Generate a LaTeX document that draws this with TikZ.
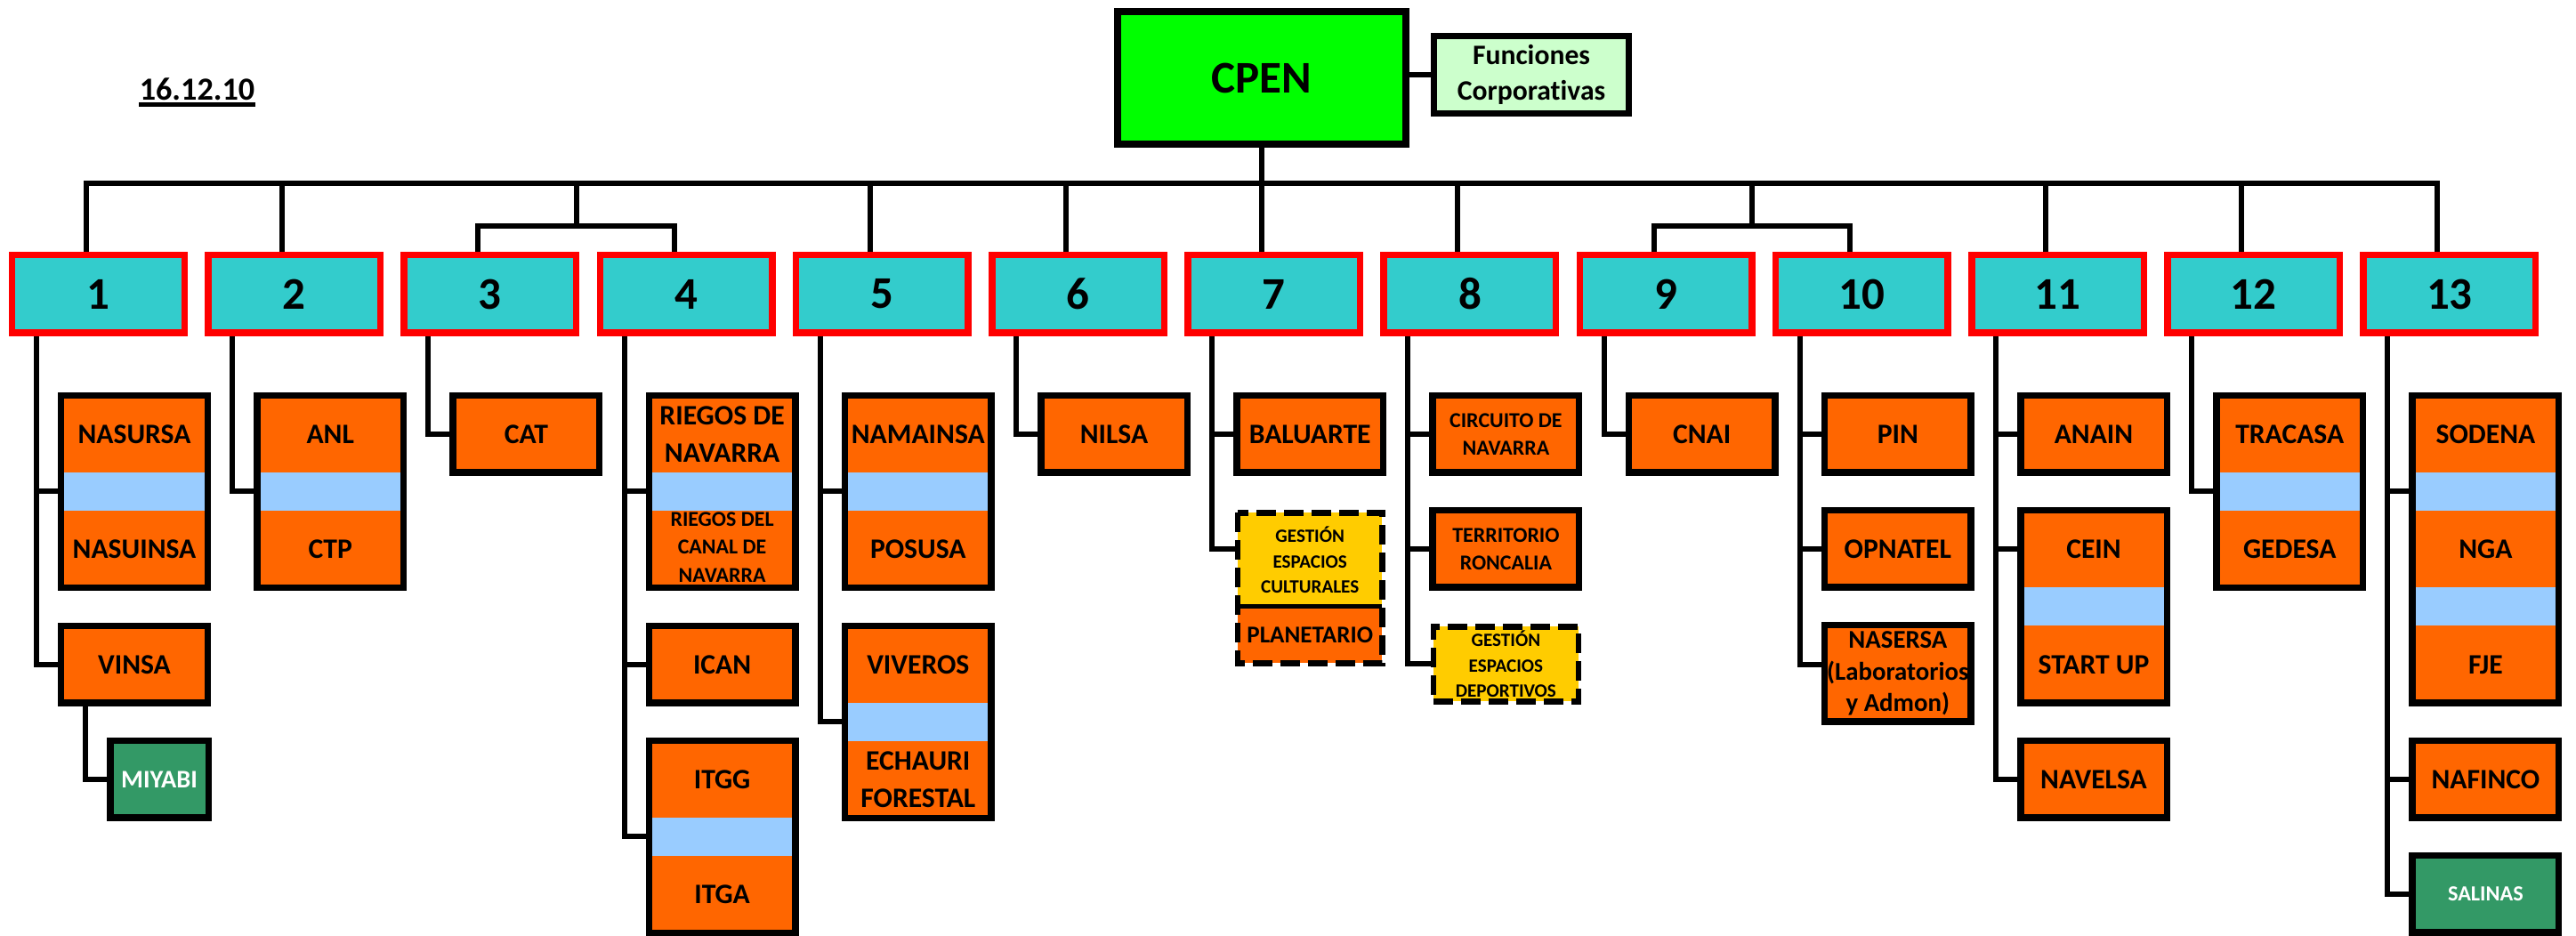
\documentclass[tikz,border=0pt]{standalone}
\usepackage{fontspec}
\setmainfont{Carlito}[Ligatures=NoCommon]
\usepackage{tikz}

\definecolor{unitfill}{HTML}{33CCCC}
\definecolor{firmfill}{HTML}{FF6600}
\definecolor{bandfill}{HTML}{99CCFF}
\definecolor{headfill}{HTML}{00FF00}
\definecolor{corpfill}{HTML}{CCFFCC}
\definecolor{planfill}{HTML}{FFCC00}
\definecolor{newfill}{HTML}{339966}

\begin{document}
\begin{tikzpicture}[
    link/.style={line width=0.06cm},
    unit/.style={draw=red, line width=0.075cm, fill=unitfill, minimum width=1.935cm, minimum height=0.875cm, inner sep=0pt, font=\fontsize{14.5}{17}\selectfont\bfseries},
    firm/.style={draw, line width=0.075cm, fill=firmfill, minimum width=1.645cm, minimum height=0.865cm, inner sep=0pt, align=center, font=\fontsize{9}{11.9}\selectfont\bfseries},
    band/.style={fill=bandfill, minimum width=1.57cm, minimum height=0.43cm, inner sep=0pt},
    lbl/.style={inner sep=0pt, align=center, font=\fontsize{9}{11.9}\selectfont\bfseries},
    smalltxt/.style={font=\fontsize{6.8}{8.9}\selectfont\bfseries},
    tinytxt/.style={font=\fontsize{6}{8.1}\selectfont\bfseries},
    dashbox/.style={draw, line width=0.065cm, dash pattern=on 0.22cm off 0.09cm},
    newfirm/.style={firm, fill=newfill, text=white}
]
    \useasboundingbox (0,0) rectangle (28.95,-10.52);
    \coordinate (rA) at (0,-4.88);
    \coordinate (rB) at (0,-6.17);
    \coordinate (rC) at (0,-7.47);

    \node[inner sep=0pt, anchor=base, font=\fontsize{10.3}{12}\selectfont\bfseries] (date) at (2.215,-1.13) {16.12.10};
    \draw[line width=0.05cm] ([yshift=-0.045cm]date.base west) -- ([yshift=-0.045cm]date.base east);

    \node[draw, line width=0.08cm, fill=headfill, minimum width=3.245cm, minimum height=1.49cm, font=\fontsize{14.5}{17}\selectfont\bfseries] (cpen) at (14.18,-0.875) {CPEN};
    \node[draw, line width=0.07cm, fill=corpfill, minimum width=2.19cm, minimum height=0.87cm, inner sep=0pt, align=center, font=\fontsize{9}{11.4}\selectfont\bfseries] (corp) at (17.21,-0.84) {Funciones\\Corporativas};
    \draw[link] (cpen.east |- corp.west) -- (corp.west);

    \foreach \k in {1,...,13} {
        \node[unit] (b\k) at ({1.105+(\k-1)*2.202},-3.305) {\k};
        \coordinate (t\k) at ([xshift=-0.695cm]b\k.south);
    }

    \coordinate (bus) at (14.18,-2.06);
    \draw[link] (cpen.south) -- (bus);
    \foreach \k in {1,2,5,6,7,8,11,12,13}
        \draw[link] ([xshift=-0.135cm]b\k.north) |- (bus);
    \coordinate (j34) at (6.475,-2.54);
    \draw[link] (j34) -- (j34 |- bus);
    \draw[link] ([xshift=-0.135cm]b3.north) |- (j34);
    \draw[link] ([xshift=-0.135cm]b4.north) |- (j34);
    \coordinate (j910) at (19.689,-2.54);
    \draw[link] (j910) -- (j910 |- bus);
    \draw[link] ([xshift=-0.135cm]b9.north) |- (j910);
    \draw[link] ([xshift=-0.135cm]b10.north) |- (j910);

    \node[firm, minimum height=2.16cm] (nasu) at (1.51,-5.525) {};
    \node[band] (nasuband) at (nasu) {};
    \node[lbl] (nasursa) at (1.51,-4.88) {NASURSA};
    \node[lbl] (nasuinsa) at (1.51,-6.17) {NASUINSA};
    \node[firm] (vinsa) at (1.51,-7.47) {VINSA};
    \node[newfirm, minimum width=1.105cm, font=\fontsize{8.1}{10}\selectfont\bfseries] (miyabi) at (1.79,-8.76) {MIYABI};
    \draw[link] (t1) |- (nasu.west);
    \draw[link] (t1) |- (vinsa.west);
    \draw[link] ([xshift=-0.55cm]vinsa.south) |- (miyabi.west);

    \node[firm, minimum height=2.16cm] (anlctp) at (3.712,-5.525) {};
    \node[band] (anlband) at (anlctp) {};
    \node[lbl] (anl) at (3.712,-4.88) {ANL};
    \node[lbl] (ctp) at (3.712,-6.17) {CTP};
    \draw[link] (t2) |- (anlctp.west);

    \node[firm] (cat) at (5.914,-4.88) {CAT};
    \draw[link] (t3) |- (cat.west);

    \node[firm, minimum height=2.16cm] (riegos) at (8.116,-5.525) {};
    \node[band] (riegosband) at (riegos) {};
    \node[lbl] (rnavarra) at (8.116,-4.88) {RIEGOS DE\\NAVARRA};
    \node[lbl, smalltxt] (rcanal) at (8.116,-6.15) {RIEGOS DEL\\CANAL DE\\NAVARRA};
    \node[firm] (ican) at (8.116,-7.47) {ICAN};
    \node[firm, minimum height=2.16cm] (itg) at (8.116,-9.405) {};
    \node[band] (itgband) at (itg) {};
    \node[lbl] (itgg) at (8.116,-8.76) {ITGG};
    \node[lbl] (itga) at (8.116,-10.05) {ITGA};
    \draw[link] (t4) |- (riegos.west);
    \draw[link] (t4) |- (ican.west);
    \draw[link] (t4) |- (itg.west);

    \node[firm, minimum height=2.16cm] (nama) at (10.318,-5.525) {};
    \node[band] (namaband) at (nama) {};
    \node[lbl] (namainsa) at (10.318,-4.88) {NAMAINSA};
    \node[lbl] (posusa) at (10.318,-6.17) {POSUSA};
    \node[firm, minimum height=2.16cm] (viv) at (10.318,-8.115) {};
    \node[band] (vivband) at (viv) {};
    \node[lbl] (viveros) at (10.318,-7.47) {VIVEROS};
    \node[lbl] (echauri) at (10.318,-8.76) {ECHAURI\\FORESTAL};
    \draw[link] (t5) |- (nama.west);
    \draw[link] (t5) |- (viv.west);

    \node[firm] (nilsa) at (12.52,-4.88) {NILSA};
    \draw[link] (t6) |- (nilsa.west);

    \node[firm] (baluarte) at (14.722,-4.88) {BALUARTE};
    \node[firm, draw=none, fill=planfill, outer sep=0pt, minimum width=1.625cm, minimum height=1.055cm, tinytxt] (gecult) at (14.722,-6.2925) {GESTIÓN\\ESPACIOS\\CULTURALES};
    \node[firm, draw=none, outer sep=0pt, minimum width=1.625cm, minimum height=0.635cm, anchor=north, font=\fontsize{7.7}{9}\selectfont\bfseries] (planet) at (gecult.south) {PLANETARIO};
    \draw[line width=0.05cm] (gecult.south west) -- (gecult.south east);
    \draw[dashbox] (gecult.north west) rectangle (planet.south east);
    \draw[link] (t7) |- (baluarte.west);
    \draw[link] (t7) |- (gecult.west |- rB);

    \node[firm, smalltxt] (circuito) at (16.924,-4.88) {CIRCUITO DE\\NAVARRA};
    \node[firm, smalltxt] (roncalia) at (16.924,-6.17) {TERRITORIO\\RONCALIA};
    \node[firm, dashbox, fill=planfill, minimum width=1.63cm, minimum height=0.84cm, tinytxt] (gedep) at (16.924,-7.465) {GESTIÓN\\ESPACIOS\\DEPORTIVOS};
    \draw[link] (t8) |- (circuito.west);
    \draw[link] (t8) |- (roncalia.west);
    \draw[link] (t8) |- (gedep.west);

    \node[firm] (cnai) at (19.126,-4.88) {CNAI};
    \draw[link] (t9) |- (cnai.west);

    \node[firm] (pin) at (21.328,-4.88) {PIN};
    \node[firm] (opnatel) at (21.328,-6.17) {OPNATEL};
    \node[firm, minimum height=1.085cm, font=\fontsize{8.2}{10.1}\selectfont\bfseries] (nasersa) at (21.328,-7.57) {NASERSA\\(Laboratorios\\y Admon)};
    \draw[link] (t10) |- (pin.west);
    \draw[link] (t10) |- (opnatel.west);
    \draw[link] (t10) |- (nasersa.west |- rC);

    \node[firm] (anain) at (23.53,-4.88) {ANAIN};
    \node[firm, minimum height=2.165cm] (ceinup) at (23.53,-6.82) {};
    \node[band] (ceinband) at (ceinup) {};
    \node[lbl] (cein) at (23.53,-6.17) {CEIN};
    \node[lbl] (startup) at (23.53,-7.47) {START UP};
    \node[firm] (navelsa) at (23.53,-8.76) {NAVELSA};
    \draw[link] (t11) |- (anain.west);
    \draw[link] (t11) |- (ceinup.west |- rB);
    \draw[link] (t11) |- (navelsa.west);

    \node[firm, minimum height=2.16cm] (traged) at (25.732,-5.525) {};
    \node[band] (tragband) at (traged) {};
    \node[lbl] (tracasa) at (25.732,-4.88) {TRACASA};
    \node[lbl] (gedesa) at (25.732,-6.17) {GEDESA};
    \draw[link] (t12) |- (traged.west);

    \node[firm, minimum height=3.455cm] (sodnga) at (27.934,-6.175) {};
    \node[band] (sodband) at (27.934,-5.525) {};
    \node[band] (ngaband) at (27.934,-6.82) {};
    \node[lbl] (sodena) at (27.934,-4.88) {SODENA};
    \node[lbl] (nga) at (27.934,-6.17) {NGA};
    \node[lbl] (fje) at (27.934,-7.47) {FJE};
    \node[firm] (nafinco) at (27.934,-8.76) {NAFINCO};
    \node[newfirm, font=\fontsize{6.9}{8}\selectfont\bfseries] (salinas) at (27.934,-10.05) {SALINAS};
    \draw[link] (t13) |- (sodnga.west |- sodband);
    \draw[link] (t13) |- (nafinco.west);
    \draw[link] (t13) |- (salinas.west);
\end{tikzpicture}
\end{document}
